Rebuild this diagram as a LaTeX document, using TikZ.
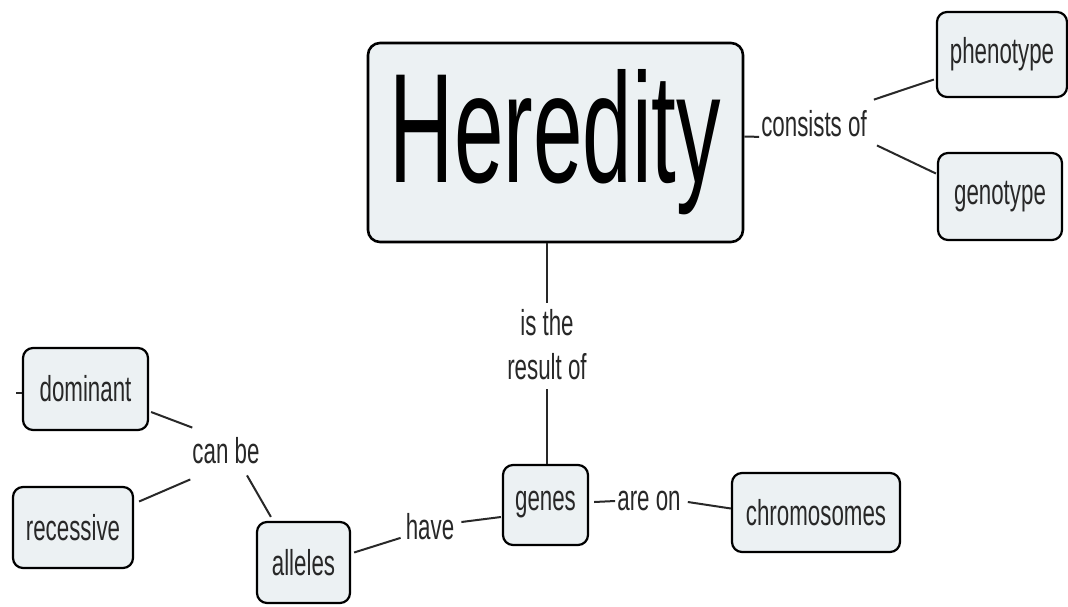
\documentclass[tikz,border=0pt]{standalone}
\usepackage{fontspec}
\setmainfont{Liberation Sans}
\newfontfamily\labfont[FakeStretch=0.62]{Liberation Sans}
\newfontfamily\bigfont[FakeStretch=0.57]{Liberation Sans}
\usetikzlibrary{calc}
\definecolor{boxfill}{RGB}{236,241,243}
\definecolor{ink}{RGB}{40,40,40}
\tikzset{
 concept/.style={draw=black, line width=2.2pt, rounded corners=10pt, fill=boxfill, inner sep=0pt,
   font=\labfont\fontsize{36}{44}\selectfont, text=ink},
 linkword/.style={inner sep=2pt, font=\labfont\fontsize{36}{44}\selectfont, text=ink, align=center},
 link/.style={draw=ink, line width=2pt},
}
\begin{document}
\begin{tikzpicture}[x=1pt,y=-1pt]
\useasboundingbox[fill=white] (0,0) rectangle (1068,606);
% concepts
\node[concept, minimum width=375pt, minimum height=199pt, font=\bigfont\fontsize{156}{160}\selectfont, text=black, rounded corners=12pt, line width=2.6pt] (her) at (555.5,142.5) {Heredity};
\node[concept, minimum width=130pt, minimum height=85pt] (phen) at (1002,54.5) {phenotype};
\node[concept, minimum width=124pt, minimum height=87pt] (geno) at (1000,196.5) {genotype};
\node[concept, minimum width=125pt, minimum height=82pt] (dom) at (85.5,389) {dominant};
\node[concept, minimum width=120pt, minimum height=81pt] (rec) at (73,527.5) {recessive};
\node[concept, minimum width=93pt, minimum height=81pt] (all) at (303.5,562.5) {alleles};
\node[concept, minimum width=85pt, minimum height=80pt] (genes) at (545.5,505) {genes};
\node[concept, minimum width=168pt, minimum height=79pt] (chrom) at (816,512.5) {chromosomes};
% linking words
\node[linkword] (cons) at (814,124) {consists of};
\node[linkword] (isthe) at (547,345) {is the\\result of};
\node[linkword] (canbe) at (226,451) {can be};
\node[linkword] (have) at (430,527) {have};
\node[linkword] (areon) at (649,501) {are on};
\coordinate (stub) at ($(dom.west)+(-6,4)$);
% connectors
\draw[link] ($(her.east)+(0,-6)$) -- (cons.base west);
\draw[link] ($(cons.north east)+(5,-9)$) -- ($(phen.west)+(-2,25)$);
\draw[link] ($(cons.south east)+(8,6)$) -- ($(geno.west)+(-1,-23)$);
\draw[link] ($(isthe.north)+(0,-5)$) -- (isthe.north |- her.south);
\draw[link] ($(isthe.south)+(0,7)$) -- (isthe.south |- genes.north);
\draw[link] ($(dom.east)+(2,23)$) -- ($(canbe.north west)+(2,-8)$);
\draw[link] ($(canbe.south west)+(0,13)$) -- ($(rec.east)+(5,-26)$);
\draw[link] ($(canbe.south)+(21,9)$) -- ($(all.north west)+(15,-4)$);
\draw[link] ($(all.east)+(3,-10)$) -- ($(have.base west)+(-3,-2)$);
\draw[link] ($(have.east)+(5,-5)$) -- ($(genes.west)+(-1,12)$);
\draw[link] ($(genes.east)+(5,-3)$) -- (areon.west);
\draw[link] ($(areon.east)+(5,1)$) -- ($(chrom.west)+(0,-4)$);
\draw[link] ($(dom.west)+(0,4)$) -- (stub);
\end{tikzpicture}
\end{document}
